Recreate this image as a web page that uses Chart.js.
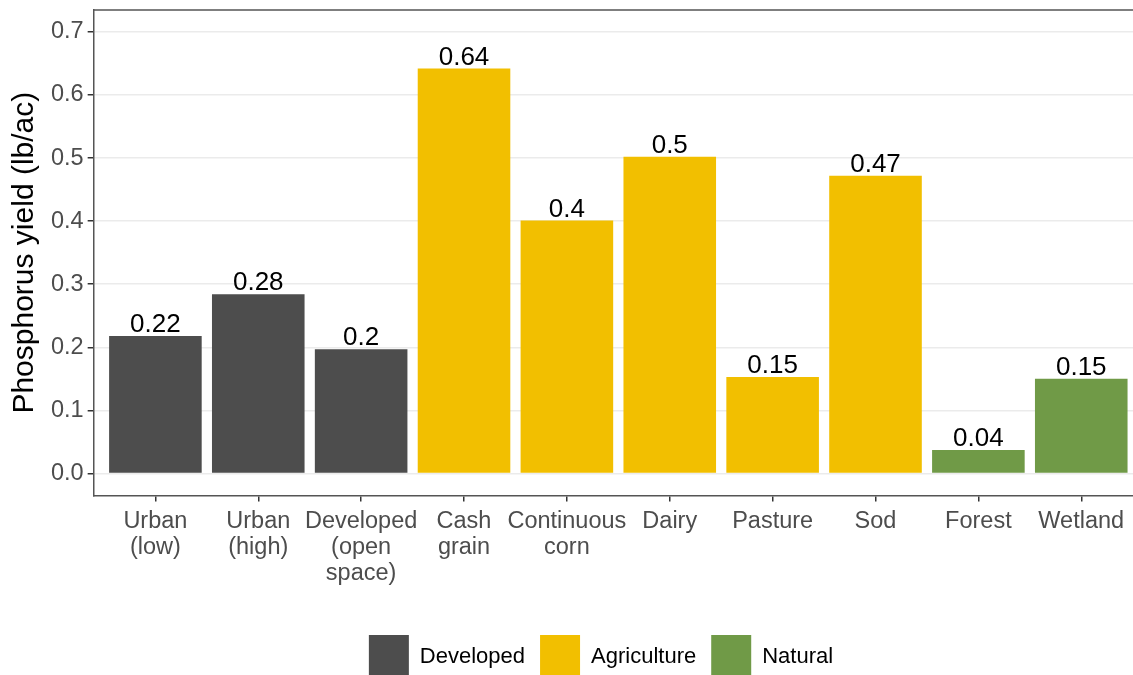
<!DOCTYPE html>
<html>
<head>
<meta charset="utf-8">
<script src="https://cdn.jsdelivr.net/npm/chart.js@4/dist/chart.umd.min.js"></script>
<style>
  html, body { margin: 0; padding: 0; background: #fff; overflow: hidden; }
</style>
</head>
<body>
<canvas id="yieldChart" width="1133" height="700"></canvas>
<script>
// data
const categories = [
  ["Urban", "(low)"], ["Urban", "(high)"], ["Developed", "(open", "space)"],
  ["Cash", "grain"], ["Continuous", "corn"], ["Dairy"], ["Pasture"], ["Sod"],
  ["Forest"], ["Wetland"]
];
const yieldValues = [0.218, 0.284, 0.197, 0.642, 0.401, 0.502, 0.153, 0.472, 0.037, 0.150];
const landGroup = ["Developed", "Developed", "Developed", "Agriculture", "Agriculture",
  "Agriculture", "Agriculture", "Agriculture", "Natural", "Natural"];
const groupNames = ["Developed", "Agriculture", "Natural"];
const groupColors = ["#4d4d4d", "#f2bf00", "#709a47"];
const yTicks = [0, 0.1, 0.2, 0.3, 0.4, 0.5, 0.6, 0.7];

const fontFam = '"Liberation Sans", Arial, sans-serif';
const frameColor = "#555555";

// one dataset per group, bars placed on a linear x axis (ggplot-style 0.6 padding)
const datasets = groupNames.map((g, gi) => ({
  label: g,
  data: yieldValues.map((v, i) => ({ x: i, y: v })).filter((p, i) => landGroup[i] === g),
  backgroundColor: groupColors[gi],
  borderWidth: 0,
  barPercentage: 0.9,
  categoryPercentage: 1.0,
  grouped: false
}));

// value labels above bars
const barLabels = {
  id: "barLabels",
  afterDatasetsDraw(chart) {
    const ctx = chart.ctx;
    ctx.save();
    ctx.font = "26px " + fontFam;
    ctx.fillStyle = "#000";
    ctx.textAlign = "center";
    ctx.textBaseline = "alphabetic";
    chart.data.datasets.forEach((ds, di) => {
      chart.getDatasetMeta(di).data.forEach((bar, j) => {
        const txt = String(Number(ds.data[j].y.toFixed(2)));
        ctx.fillText(txt, bar.x, bar.y - 4);
      });
    });
    ctx.restore();
  }
};

// top edge of the panel border
const topBorder = {
  id: "topBorder",
  afterDraw(chart) {
    const a = chart.chartArea;
    const ctx = chart.ctx;
    ctx.save();
    ctx.strokeStyle = frameColor;
    ctx.lineWidth = 1.5;
    ctx.beginPath();
    ctx.moveTo(a.left, a.top);
    ctx.lineTo(a.right, a.top);
    ctx.stroke();
    ctx.restore();
  }
};

// legend in the reference sits a bit right of the canvas centre
const legendShift = {
  id: "legendShift",
  afterLayout(chart) {
    chart.legend.left += 31;
    chart.legend.right += 31;
  }
};

new Chart(document.getElementById("yieldChart"), {
  type: "bar",
  data: { datasets: datasets },
  plugins: [barLabels, topBorder, legendShift],
  options: {
    responsive: false,
    animation: false,
    layout: { padding: { top: 1, right: 0, left: 7, bottom: 11 } },
    scales: {
      x: {
        type: "linear",
        offset: false,
        min: -0.6,
        max: 9.503,
        afterBuildTicks: (axis) => { axis.ticks = categories.map((c, i) => ({ value: i })); },
        afterFit: (axis) => { axis.height += 27; },
        ticks: {
          autoSkip: false,
          maxRotation: 0,
          padding: 7,
          color: "#4d4d4d",
          font: { family: fontFam, size: 23.5, lineHeight: 1.1 },
          callback: (v) => categories[v]
        },
        grid: {
          offset: false,
          drawOnChartArea: false,
          drawTicks: true,
          tickLength: 6,
          tickColor: "#333",
          lineWidth: 1.5
        },
        border: { display: true, color: frameColor, width: 1.5 }
      },
      y: {
        min: -0.035,
        max: 0.735,
        afterBuildTicks: (axis) => { axis.ticks = yTicks.map((v) => ({ value: v })); },
        ticks: {
          padding: 4,
          color: "#4d4d4d",
          font: { family: fontFam, size: 23.5, lineHeight: 0.5 },
          callback: (v) => v.toFixed(1)
        },
        grid: {
          color: "#ebebeb",
          lineWidth: 1.5,
          tickLength: 6,
          tickColor: "#333"
        },
        border: { display: true, color: frameColor, width: 1.5 },
        title: {
          display: true,
          text: "Phosphorus yield (lb/ac)",
          color: "#000",
          font: { family: fontFam, size: 30 },
          padding: { top: 0, bottom: 4 }
        }
      }
    },
    plugins: {
      tooltip: { enabled: false },
      legend: {
        position: "bottom",
        labels: {
          boxWidth: 40,
          boxHeight: 44,
          padding: 15,
          color: "#000",
          font: { family: fontFam, size: 22 }
        }
      }
    }
  }
});
</script>
</body>
</html>
